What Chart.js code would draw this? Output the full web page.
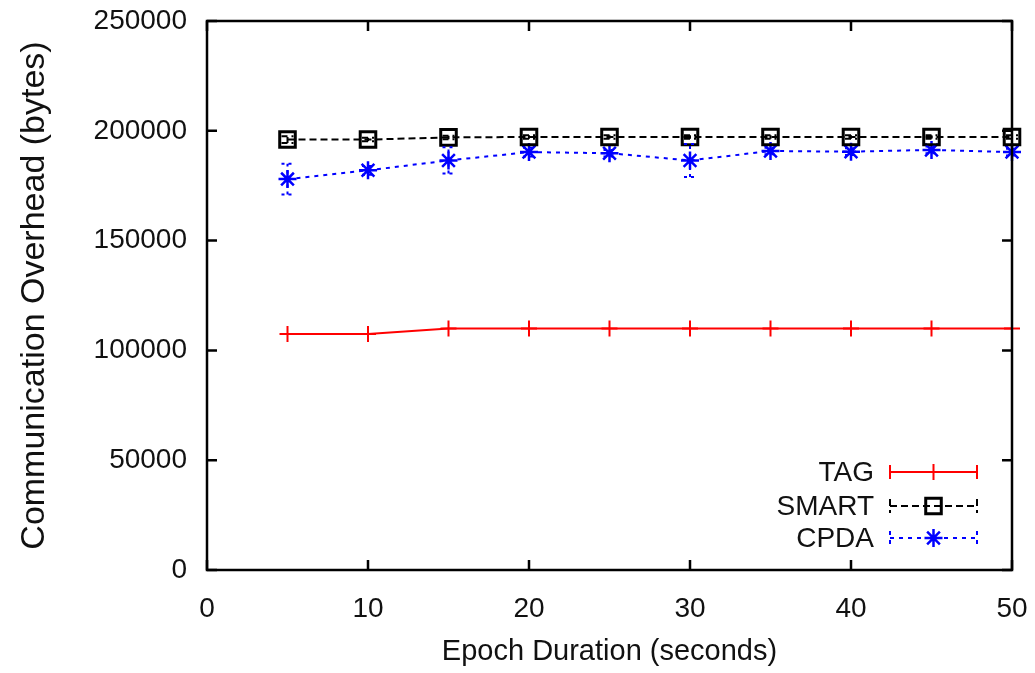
<!DOCTYPE html>
<html>
<head>
<meta charset="utf-8">
<script src="https://cdn.jsdelivr.net/npm/chart.js@4.4.0/dist/chart.umd.min.js"></script>
<style>
    html, body { margin: 0; padding: 0; background: #fff; }
    #wrap { width: 1035px; height: 673px; }
</style>
</head>
<body>
<div id="wrap"><canvas id="overheadChart"></canvas></div>
<script>
// Communication overhead vs epoch duration

const epochs = [5, 10, 15, 20, 25, 30, 35, 40, 45, 50];
const tagValues = [107500, 107500, 110000, 110000, 110000, 110000, 110000, 110000, 110000, 110000];
const smartValues = [196000, 196000, 197000, 197200, 197200, 197200, 197200, 197200, 197200, 197200];
const smartErrors = [1500, 800, 800, 800, 800, 800, 800, 800, 800, 800];
const cpdaValues = [178000, 182000, 186500, 190300, 189800, 186500, 190800, 190500, 191300, 190300];
const cpdaErrors = [7000, 2000, 6000, 2000, 1500, 7500, 1500, 1500, 1500, 1500];
const xTicks = [0, 10, 20, 30, 40, 50];
const yTicks = [0, 50000, 100000, 150000, 200000, 250000];

const FONT = '"Liberation Sans", Arial, Helvetica, sans-serif';

function toPoints(values) {
    return epochs.map((e, i) => ({ x: e, y: values[i] }));
}

// error bars, drawn through the chart scales
const errorBars = {
    id: 'errorBars',
    afterDatasetsDraw(chart) {
        const ctx = chart.ctx;
        const xs = chart.scales.x, ys = chart.scales.y;
        const sets = [
            { values: smartValues, errors: smartErrors, color: '#000', dash: [6, 4] },
            { values: cpdaValues, errors: cpdaErrors, color: '#0000ff', dash: [3, 4] }
        ];
        ctx.save();
        ctx.lineWidth = 2;
        sets.forEach(s => {
            ctx.strokeStyle = s.color;
            ctx.setLineDash(s.dash);
            epochs.forEach((e, i) => {
                const px = xs.getPixelForValue(e);
                const lo = ys.getPixelForValue(s.values[i] - s.errors[i]);
                const hi = ys.getPixelForValue(s.values[i] + s.errors[i]);
                ctx.beginPath();
                ctx.moveTo(px, lo); ctx.lineTo(px, hi);
                ctx.moveTo(px - 6, lo); ctx.lineTo(px + 6, lo);
                ctx.moveTo(px - 6, hi); ctx.lineTo(px + 6, hi);
                ctx.stroke();
            });
        });
        ctx.restore();
    }
};

// frame with inward ticks on every side
const frame = {
    id: 'frame',
    afterDraw(chart) {
        const ctx = chart.ctx;
        const a = chart.chartArea;
        const xs = chart.scales.x, ys = chart.scales.y;
        const len = 10;
        ctx.save();
        ctx.strokeStyle = '#000';
        ctx.lineWidth = 2.5;
        ctx.setLineDash([]);
        ctx.strokeRect(a.left, a.top, a.right - a.left, a.bottom - a.top);
        ctx.beginPath();
        xTicks.forEach(v => {
            const px = xs.getPixelForValue(v);
            ctx.moveTo(px, a.bottom); ctx.lineTo(px, a.bottom - len);
            ctx.moveTo(px, a.top); ctx.lineTo(px, a.top + len);
        });
        yTicks.forEach(v => {
            const py = ys.getPixelForValue(v);
            ctx.moveTo(a.left, py); ctx.lineTo(a.left + len, py);
            ctx.moveTo(a.right, py); ctx.lineTo(a.right - len, py);
        });
        ctx.stroke();
        ctx.restore();
    }
};

// gnuplot style key in the lower right corner
const key = {
    id: 'key',
    afterDraw(chart) {
        const ctx = chart.ctx;
        const a = chart.chartArea;
        const textRight = a.right - 138;
        const x0 = a.right - 122, x1 = a.right - 35, mid = (x0 + x1) / 2;
        const rows = [
            { label: 'TAG', y: a.bottom - 98 },
            { label: 'SMART', y: a.bottom - 64 },
            { label: 'CPDA', y: a.bottom - 32 }
        ];
        ctx.save();
        ctx.font = '28px ' + FONT;
        ctx.fillStyle = '#111';
        ctx.textAlign = 'right';
        ctx.textBaseline = 'middle';
        rows.forEach(r => ctx.fillText(r.label, textRight, r.y + 1));

        const ds = chart.data.datasets;
        ctx.fillStyle = 'rgba(0,0,0,0)';
        rows.forEach((r, i) => {
            const d = ds[i];
            ctx.strokeStyle = d.borderColor;
            ctx.lineWidth = 2;
            ctx.setLineDash(d.borderDash || []);
            ctx.beginPath();
            ctx.moveTo(x0, r.y); ctx.lineTo(x1, r.y);
            ctx.moveTo(x0, r.y - 7); ctx.lineTo(x0, r.y + 7);
            ctx.moveTo(x1, r.y - 7); ctx.lineTo(x1, r.y + 7);
            ctx.stroke();
            ctx.setLineDash([]);
            ctx.lineWidth = d.pointBorderWidth;
            Chart.helpers.drawPoint(ctx, {
                pointStyle: d.pointStyle,
                radius: d.pointRadius,
                borderWidth: d.pointBorderWidth
            }, mid, r.y);
        });
        ctx.restore();
    }
};

function initChart() {
    const ctx = document.getElementById('overheadChart');

    new Chart(ctx, {
        type: 'line',
        data: {
            datasets: [
                {
                    label: 'TAG',
                    data: toPoints(tagValues),
                    borderColor: '#ff0000',
                    backgroundColor: 'transparent',
                    borderWidth: 2,
                    pointStyle: 'cross',
                    pointRadius: 8,
                    pointBorderWidth: 2,
                    pointBorderColor: '#ff0000',
                    tension: 0,
                    clip: false
                },
                {
                    label: 'SMART',
                    data: toPoints(smartValues),
                    borderColor: '#000000',
                    backgroundColor: 'transparent',
                    borderWidth: 2,
                    borderDash: [7, 4],
                    pointStyle: 'rect',
                    pointRadius: 11,
                    pointBorderWidth: 3,
                    pointBorderColor: '#000000',
                    pointBackgroundColor: 'transparent',
                    tension: 0,
                    clip: false
                },
                {
                    label: 'CPDA',
                    data: toPoints(cpdaValues),
                    borderColor: '#0000ff',
                    backgroundColor: 'transparent',
                    borderWidth: 2,
                    borderDash: [4, 5],
                    pointStyle: 'star',
                    pointRadius: 9,
                    pointBorderWidth: 2.5,
                    pointBorderColor: '#0000ff',
                    tension: 0,
                    clip: false
                }
            ]
        },
        options: {
            responsive: true,
            maintainAspectRatio: false,
            animation: false,
            events: [],
            layout: {
                padding: { top: 21, right: 23, left: 0, bottom: 0 }
            },
            plugins: {
                legend: { display: false },
                tooltip: { enabled: false }
            },
            scales: {
                x: {
                    type: 'linear',
                    min: 0,
                    max: 50,
                    afterBuildTicks: scale => { scale.ticks = xTicks.map(v => ({ value: v })); },
                    afterFit: scale => {
                        scale.height = 103;
                        scale.paddingLeft = 0;
                        scale.paddingRight = 0;
                    },
                    grid: { display: false, drawTicks: false },
                    border: { display: false },
                    ticks: {
                        color: '#111',
                        padding: 22,
                        font: { family: FONT, size: 28 }
                    },
                    title: {
                        display: true,
                        text: 'Epoch Duration (seconds)',
                        color: '#111',
                        padding: { top: 0, bottom: 4 },
                        font: { family: FONT, size: 29 }
                    }
                },
                y: {
                    type: 'linear',
                    min: 0,
                    max: 250000,
                    afterBuildTicks: scale => { scale.ticks = yTicks.map(v => ({ value: v })); },
                    afterFit: scale => {
                        scale.width = 207;
                        scale.paddingTop = 0;
                        scale.paddingBottom = 0;
                    },
                    grid: { display: false, drawTicks: false },
                    border: { display: false },
                    ticks: {
                        color: '#111',
                        padding: 20,
                        font: { family: FONT, size: 28 },
                        callback: v => String(v)
                    },
                    title: {
                        display: true,
                        text: 'Communication Overhead (bytes)',
                        color: '#111',
                        padding: { top: 14, bottom: 0 },
                        font: { family: FONT, size: 34 }
                    }
                }
            }
        },
        plugins: [errorBars, frame, key]
    });
}

initChart();
</script>
</body>
</html>
